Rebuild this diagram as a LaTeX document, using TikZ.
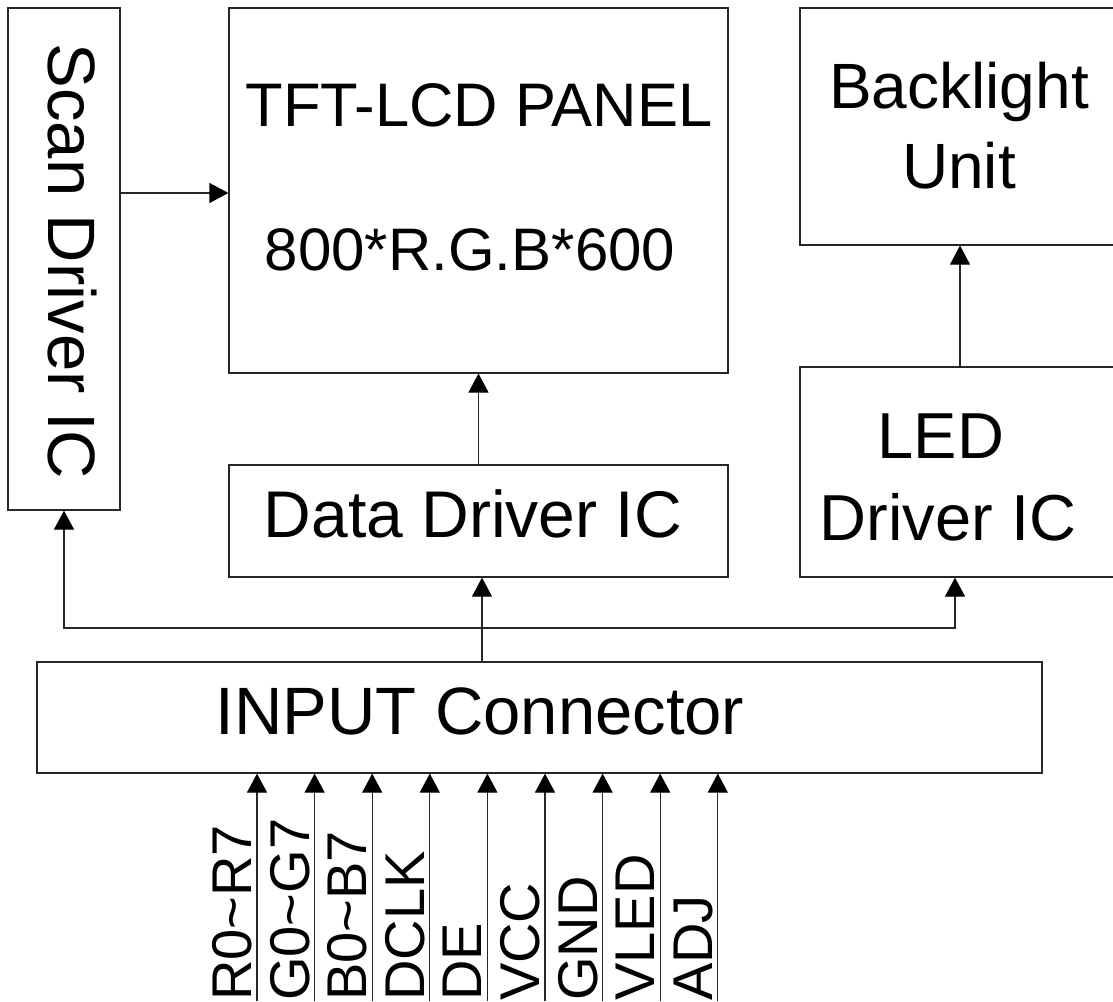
\documentclass[tikz,border=0pt]{standalone}
\usepackage{fontspec}
\setmainfont{Liberation Sans}
\usetikzlibrary{arrows.meta,positioning,calc}

\begin{document}
\begin{tikzpicture}[x=1pt, y=-1pt,
  blk/.style={draw=black!85, line width=1.2pt, inner sep=0pt},
  lbl/.style={inner sep=0pt, align=center},
  arr/.style={-{Triangle[length=19pt,width=20pt,color=black]}, line width=1.2pt, draw=black!85},
  sig/.style={font=\fontsize{56}{60}\selectfont, rotate=90, anchor=base west, inner sep=0pt}]
\clip (0,0) rectangle (1113,1001);
\fill[white] (0,0) rectangle (1113,1001);
% Boxes
\node[blk, minimum width=112pt, minimum height=502pt] (scan) at (64,259) {};
\node[blk, minimum width=499pt, minimum height=365pt] (panel) at (478.5,190.5) {};
\node[blk, minimum width=320pt, minimum height=237pt] (bl) at (960,126.5) {};
\node[blk, minimum width=320pt, minimum height=210pt] (led) at (960,472) {};
\node[blk, minimum width=499pt, minimum height=112pt] (data) at (478.5,521) {};
\node[blk, minimum width=1005pt, minimum height=111pt] (inp) at (539.5,717.5) {};
% Texts
\node[lbl, font=\fontsize{67}{80}\selectfont, rotate=-90] (scantxt) at (72,261.5) {Scan Driver IC};
\node[lbl, font=\fontsize{61.5}{72}\selectfont] (paneltxt) at (479,105) {TFT-LCD PANEL};
\node[lbl, font=\fontsize{60}{72}\selectfont] (restxt) at (470,250) {800*R.G.B*600};
\node[lbl, font=\fontsize{64}{80}\selectfont] (bltxt) at (959,126) {Backlight\\Unit};
\node[lbl, font=\fontsize{65}{82}\selectfont] (ledtxt) at (948,477) {LED\hspace*{14pt}\\Driver IC};
\node[lbl, font=\fontsize{66}{80}\selectfont] (datatxt) at (473,514) {Data Driver IC};
\node[lbl, font=\fontsize{67}{80}\selectfont] (inptxt) at (480,711) {INPUT Connector};
% Connectors
\draw[arr] ([yshift=66pt]scan.east) -- ([yshift=66pt]scan.east -| panel.west);
\draw[arr] (data.north) -- (panel.south);
\draw[arr] (led.north) -- (bl.south);
\coordinate (feed) at (482,628);
\draw[arr] (inp.north -| feed) -- (data.south -| feed);
\draw[arr] (feed) -| (scan.south);
\draw[arr] (feed) -| ([xshift=-5pt]led.south);
% Input signals
\foreach \name [count=\i from 0] in {R0\textasciitilde R7, G0\textasciitilde G7, B0\textasciitilde B7, DCLK, DE, VCC, GND, VLED, ADJ}{
  \coordinate (pin\i) at (257+57.6*\i,1001);
  \draw[arr] (pin\i) -- (pin\i |- inp.south);
  \node[sig] (sig\i) at ([xshift=-5.5pt]pin\i) {\name};
}
\end{tikzpicture}
\end{document}
